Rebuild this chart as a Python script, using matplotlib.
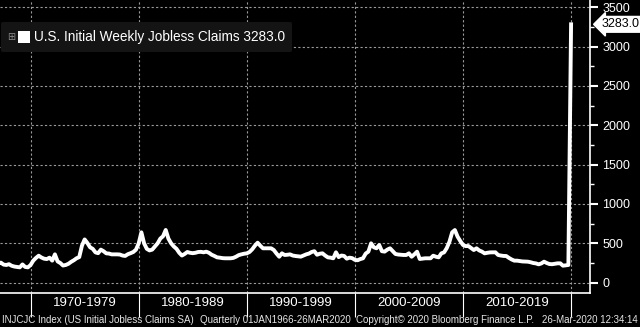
import matplotlib
matplotlib.use("Agg")
import matplotlib.pyplot as plt
from matplotlib.patches import FancyBboxPatch, Rectangle
from matplotlib.ticker import MultipleLocator, FixedLocator, NullFormatter
import matplotlib.transforms as mtransforms

# quarterly averages of initial claims (thousands), first quarter = 1967 Q1
start_year = 1967
claims = [
    240, 255, 230, 225,   # 1967
    235, 215, 205, 200,   # 1968
    195, 232, 200, 195,   # 1969
    225, 280, 315, 343,   # 1970
    320, 305, 300, 318,   # 1971
    280, 360, 270, 250,   # 1972
    218, 225, 240, 265,   # 1973
    285, 310, 325, 470,   # 1974
    550, 505, 450, 430,   # 1975
    385, 375, 420, 400,   # 1976
    373, 370, 360, 360,   # 1977
    360, 358, 345, 340,   # 1978
    362, 375, 390, 420,   # 1979
    500, 640, 500, 430,   # 1980
    410, 420, 460, 500,   # 1981
    560, 590, 670, 560,   # 1982
    500, 460, 430, 380,   # 1983
    345, 365, 390, 380,   # 1984
    375, 380, 390, 392,   # 1985
    386, 394, 380, 355,   # 1986
    340, 322, 318, 312,   # 1987
    310, 310, 310, 315,   # 1988
    330, 350, 360, 368,   # 1989
    373, 390, 424, 470,   # 1990
    508, 470, 437, 437,   # 1991
    437, 437, 415, 370,   # 1992
    330, 373, 352, 355,   # 1993
    360, 345, 339, 335,   # 1994
    331, 345, 360, 370,   # 1995
    390, 400, 355, 368,   # 1996
    373, 345, 322, 318,   # 1997
    310, 386, 325, 345,   # 1998
    340, 305, 318, 312,   # 1999
    290, 285, 300, 310,   # 2000
    370, 395, 500, 450,   # 2001
    437, 479, 400, 395,   # 2002
    420, 437, 400, 365,   # 2003
    358, 355, 352, 352,   # 2004
    373, 330, 360, 394,   # 2005
    301, 305, 310, 310,   # 2006
    310, 343, 330, 322,   # 2007
    373, 385, 440, 521,   # 2008
    640, 669, 585, 530,   # 2009
    479, 465, 466, 440,   # 2010
    415, 437, 410, 395,   # 2011
    373, 380, 385, 386,   # 2012
    386, 352, 345, 340,   # 2013
    339, 315, 295, 280,   # 2014
    280, 275, 270, 268,   # 2015
    267, 260, 250, 245,   # 2016
    233, 245, 267, 250,   # 2017
    237, 235, 240, 246,   # 2018
    246, 216, 220, 225,   # 2019
    3283,                 # 2020 Q1
]
last_value = 3283.0

decade_labels = ["1970-1979", "1980-1989", "1990-1999", "2000-2009", "2010-2019"]
decade_starts = [1970, 1980, 1990, 2000, 2010, 2020]

dates = [start_year + i * 0.25 for i in range(len(claims))]

W, H = 640, 327
fig = plt.figure(figsize=(W / 100, H / 100), dpi=100, facecolor="black")
ax = fig.add_axes([0, 34 / H, 590 / W, 293 / H])
ax.set_facecolor("black")

ax.plot(dates, claims, color="white", lw=2.8, solid_joinstyle="round", zorder=3)

ax.set_xlim(1967.17, 2021.75)
ax.set_ylim(-131, 3592)

# grid
for yv in range(0, 3501, 500):
    ax.axhline(yv, color="#9a9a9a", lw=0.8, ls=(0, (2, 2)), zorder=1)
for xv in decade_starts:
    ax.axvline(xv, color="#9a9a9a", lw=0.8, ls=(0, (2, 2)), zorder=1)

# spines
for s in ["top", "left"]:
    ax.spines[s].set_visible(False)
for s in ["right", "bottom"]:
    ax.spines[s].set_color("white")
    ax.spines[s].set_linewidth(1.2)

# y axis on the right
ax.yaxis.tick_right()
ax.yaxis.set_major_locator(MultipleLocator(500))
ax.yaxis.set_minor_locator(MultipleLocator(250))
ax.tick_params(axis="y", which="major", colors="white", length=6, width=1.5,
               pad=3, labelsize=9, direction="out")
ax.tick_params(axis="y", which="minor", colors="white", length=3, width=1)
for lab in ax.get_yticklabels():
    lab.set_family("Liberation Sans")

# x axis: separators at decades, labels centred between them
ax.xaxis.set_major_locator(FixedLocator(decade_starts))
ax.xaxis.set_major_formatter(NullFormatter())
ax.xaxis.set_minor_locator(FixedLocator([d + 5 for d in decade_starts[:-1]]))
ax.set_xticklabels(decade_labels, minor=True)
ax.tick_params(axis="x", which="major", colors="white", length=17, width=0.8)
ax.tick_params(axis="x", which="minor", length=0, pad=3, labelsize=9.5,
               labelcolor="white")
for lab in ax.get_xticklabels(minor=True):
    lab.set_family("Liberation Sans")

# last value tag
tr = mtransforms.blended_transform_factory(ax.transAxes, ax.transData)
ax.text(1.0 + 12 / 590, last_value, f"{last_value:.1f}", transform=tr,
        ha="left", va="center", fontsize=9, family="Liberation Sans",
        color="black", clip_on=False,
        bbox=dict(boxstyle="larrow,pad=0.15", fc="white", ec="white"))

# legend box
fig.patches.append(FancyBboxPatch((1 / W, 1 - 52 / H), 291 / W, 30 / H,
                                  boxstyle="round,pad=0,rounding_size=0.004",
                                  transform=fig.transFigure, fc="#141414",
                                  ec="none", zorder=5))
fig.text(11.5 / W, 1 - 37 / H, "\u229e", color="#8c8c8c", fontsize=7,
         ha="center", va="center", family="DejaVu Sans", zorder=6)
fig.patches.append(Rectangle((18 / W, 1 - 43 / H), 12 / W, 12 / H,
                             transform=fig.transFigure, fc="white", ec="none",
                             zorder=6))
fig.text(34 / W, 1 - 37.5 / H, f"U.S. Initial Weekly Jobless Claims {last_value:.1f}",
         color="white", fontsize=9.8, ha="left", va="center",
         family="Liberation Sans", zorder=6)

# footer
footer_y = 1 - 320 / H
fig.text(2 / W, footer_y, "INJCJC Index (US Initial Jobless Claims SA)",
         color="#e6e6e6", fontsize=7, family="Liberation Sans", va="center")
fig.text(200 / W, footer_y, "Quarterly 01JAN1966-26MAR2020",
         color="#e6e6e6", fontsize=7, family="Liberation Sans", va="center")
fig.text(356 / W, footer_y, "Copyright\u00a9 2020 Bloomberg Finance L.P.",
         color="#e6e6e6", fontsize=7, family="Liberation Sans", va="center")
fig.text(638 / W, footer_y, "26-Mar-2020 12:34:14",
         color="#e6e6e6", fontsize=7, family="Liberation Sans", va="center",
         ha="right")

fig.savefig("out.png", dpi=100, facecolor="black")
